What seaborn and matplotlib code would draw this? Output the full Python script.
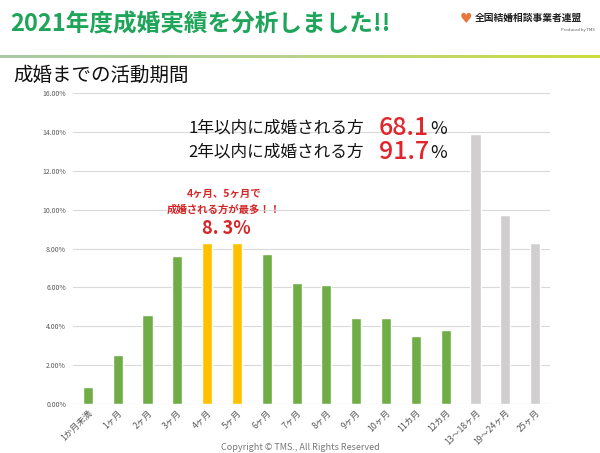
import numpy as np
import pandas as pd
import matplotlib
matplotlib.use("Agg")
import matplotlib.pyplot as plt
import seaborn as sns
from matplotlib.colors import LinearSegmentedColormap

# data
periods = ["1か月未満", "1ヶ月", "2ヶ月", "3ヶ月", "4ヶ月", "5ヶ月", "6ヶ月", "7ヶ月",
           "8ヶ月", "9ヶ月", "10ヶ月", "11カ月", "12カ月", "13～18ヶ月", "19～24ヶ月", "25ヶ月"]
share = [0.9, 2.5, 4.6, 7.6, 8.3, 8.3, 7.7, 6.2, 6.1, 4.4, 4.4, 3.5, 3.8, 13.9, 9.7, 8.3]
groups = ["base"] * 4 + ["peak"] * 2 + ["base"] * 7 + ["over"] * 3
yticks = [0, 2, 4, 6, 8, 10, 12, 14, 16]

sns.set_theme(style="white")
plt.rcParams['font.family'] = ['Noto Sans CJK JP', 'DejaVu Sans']

df = pd.DataFrame({"period": periods, "share": share, "group": groups})
colors = {"base": "#70AD47", "peak": "#FFC000", "over": "#D0CECE"}

fig = plt.figure(figsize=(6, 4.53), dpi=100)
ax = fig.add_axes([73 / 600, 1 - 404 / 453, 477 / 600, 311 / 453])

sns.barplot(data=df, x="period", y="share", hue="group", palette=colors,
            width=0.34, dodge=False, legend=False, ax=ax, saturation=1)

ax.set_ylim(0, 16)
ax.set_xlim(-0.5, 15.5)
ax.set_yticks(yticks)
ax.set_yticklabels([f"{v:.2f}%" for v in yticks], fontsize=5, color="#595959")
ax.yaxis.grid(True, color="#D9D9D9", linewidth=0.8)
ax.set_axisbelow(True)
ax.tick_params(axis="y", length=0, pad=5)
ax.tick_params(axis="x", length=0, pad=3)
plt.setp(ax.get_xticklabels(), rotation=45, ha="right", rotation_mode="anchor",
         fontsize=6.3, color="#595959")
ax.set_xlabel("")
ax.set_ylabel("")
for s in ax.spines.values():
    s.set_visible(False)
ax.axhline(0, color="#D9D9D9", linewidth=0.8)

# header
fig.text(10 / 600, 1 - 24 / 453, "2021年度成婚実績を分析しました!!", fontsize=17,
         color="#1FA55A", va="center", ha="left", fontweight="bold")
fig.text(466 / 600, 1 - 19 / 453, "♥", fontsize=10, color="#E8763A", va="center",
         ha="center", family=['DejaVu Sans'])
fig.text(475 / 600, 1 - 18 / 453, "全国結婚相談事業者連盟", fontsize=7, color="#222222",
         va="center", ha="left", fontweight="bold")
fig.text(595 / 600, 1 - 30 / 453, "Produced by TMS", fontsize=3, color="#555555",
         va="center", ha="right")

grad = LinearSegmentedColormap.from_list("g", ["#A9C9A4", "#B9D28A", "#CCDD3A"])
lax = fig.add_axes([0, 1 - 58 / 453, 1, 3 / 453])
lax.imshow(np.linspace(0, 1, 256)[None, :], aspect="auto", cmap=grad)
lax.axis("off")

fig.text(13 / 600, 1 - 75 / 453, "成婚までの活動期間", fontsize=14, color="#111111",
         va="center", ha="left")

# callouts
for yy, label, val in [(128, "1年以内に成婚される方", "68.1"),
                       (152, "2年以内に成婚される方", "91.7")]:
    fig.text(188 / 600, 1 - yy / 453, label, fontsize=12, color="#111111",
             va="center", ha="left")
    fig.text(429 / 600, 1 - yy / 453, val, fontsize=18, color="#E0262B",
             va="center", ha="right", fontweight="medium")
    fig.text(430 / 600, 1 - (yy + 1) / 453, "%", fontsize=13, color="#111111",
             va="center", ha="left")

fig.text(224 / 600, 1 - 194 / 453, "4ヶ月、5ヶ月で", fontsize=7.5, color="#D62728",
         va="center", ha="center", fontweight="bold")
fig.text(224 / 600, 1 - 210 / 453, "成婚される方が最多！！", fontsize=7.5, color="#D62728",
         va="center", ha="center", fontweight="bold")
fig.text(226 / 600, 1 - 229 / 453, "8. 3%", fontsize=13, color="#D62728",
         va="center", ha="center", fontweight="bold")

fig.text(0.5, 1 - 447 / 453, "Copyright © TMS., All Rights Reserved", fontsize=6.5,
         color="#777777", va="center", ha="center")

fig.savefig("out.png", dpi=100)
